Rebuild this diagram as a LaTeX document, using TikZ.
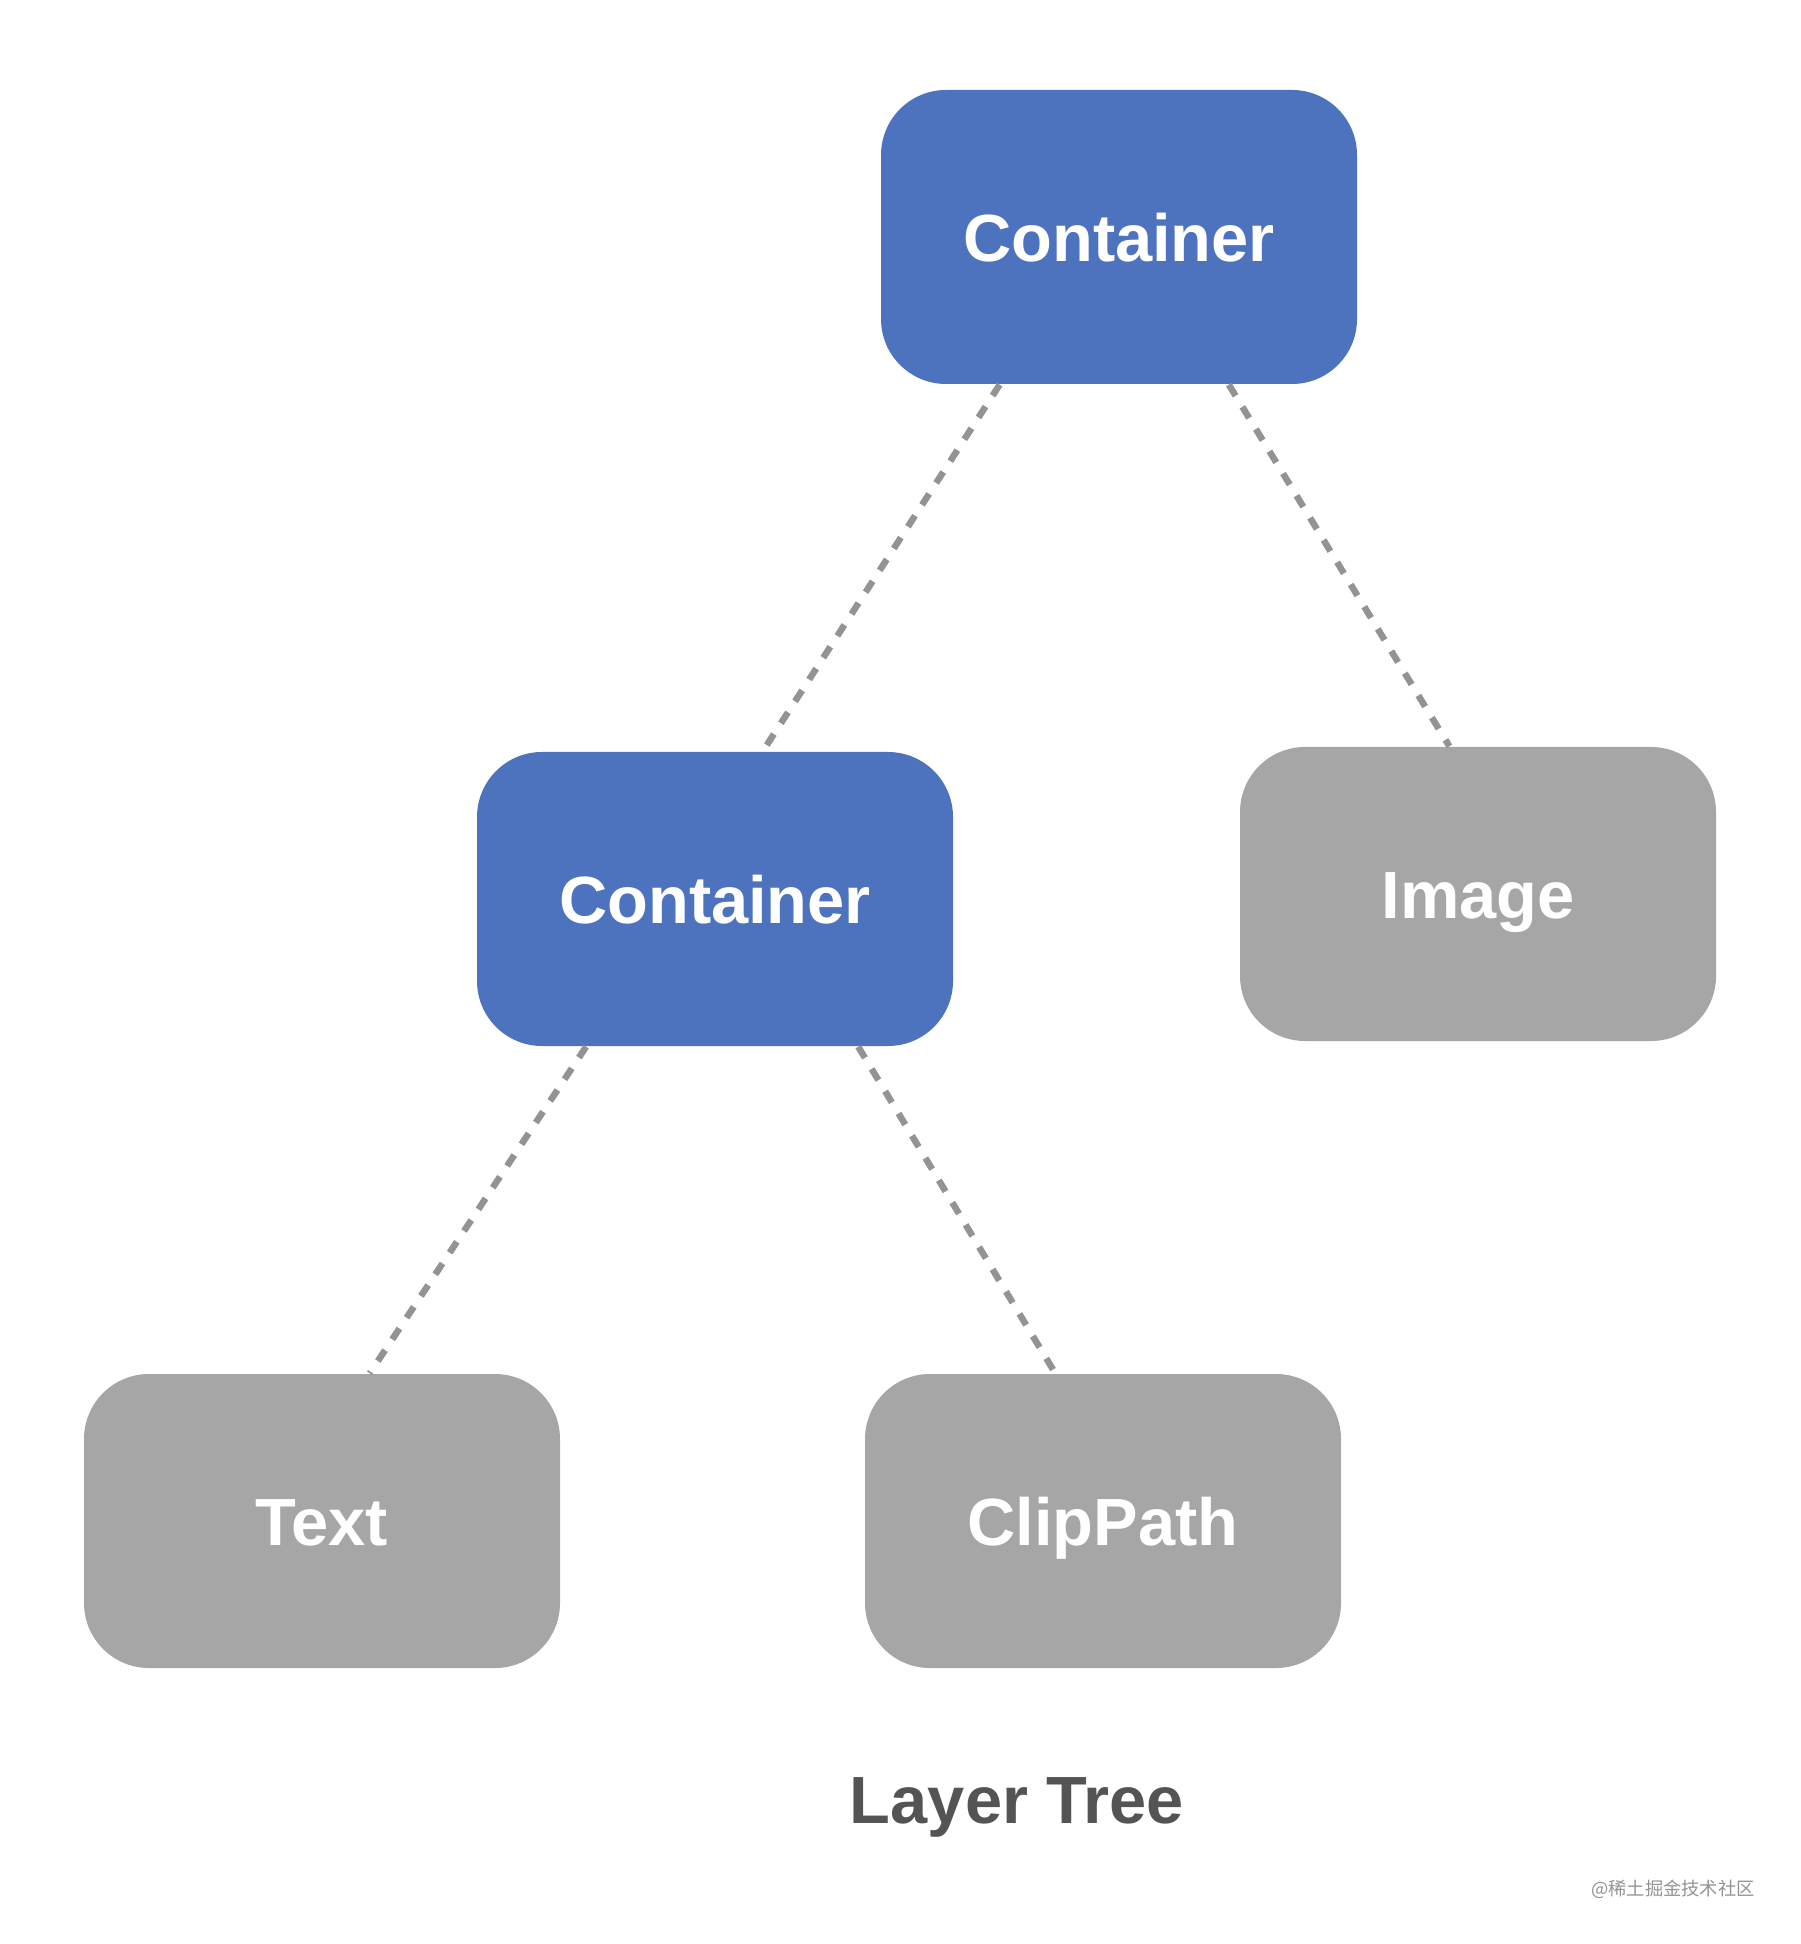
\documentclass[tikz,border=0pt]{standalone}
\usepackage{fontspec}
\setmainfont{Liberation Sans}
\newfontfamily\cjk{Noto Sans CJK SC}
\usetikzlibrary{calc,positioning}
\definecolor{layerblue}{HTML}{4E73BE}
\definecolor{layergray}{HTML}{A6A6A6}
\definecolor{linkgray}{HTML}{939393}
\definecolor{titlegray}{HTML}{545454}

\begin{document}
\begin{tikzpicture}[font=\fontsize{19}{23}\selectfont\bfseries]
  \tikzset{
    layer/.style={rounded corners=0.65cm,inner sep=0pt,minimum width=4.76cm,minimum height=2.94cm,
      text height=0.49cm,text depth=0cm,text=white,align=center},
    bluelayer/.style={layer,fill=layerblue},
    graylayer/.style={layer,fill=layergray},
    link/.style={draw=linkgray,line width=0.065cm,dash pattern=on 0.13cm off 0.13cm}
  }
  \useasboundingbox (0,0) rectangle (18,-19.44);

  % Layer nodes
  \node[bluelayer] (root) at (11.19,-2.37) {Container};
  \node[bluelayer] (inner) at (7.15,-8.99) {Container};
  \node[graylayer] (image) at (14.78,-8.94) {Image};
  \node[graylayer] (text) at (3.22,-15.21) {Text};
  \node[graylayer] (clip) at (11.03,-15.21) {ClipPath};

  % Dotted parent-child links
  \draw[link] ($(root.south west)!0.25!(root.south east)$) -- ($(inner.north west)!0.6!(inner.north east)$);
  \draw[link] ($(root.south west)!0.73!(root.south east)$) -- ($(image.north west)!0.44!(image.north east)$);
  \draw[link] ($(inner.south west)!0.23!(inner.south east)$) -- ($(text.north west)!0.6!(text.north east)$);
  \draw[link] ($(inner.south west)!0.8!(inner.south east)$) -- ($(clip.north west)!0.4!(clip.north east)$);

  % Caption and watermark
  \node[anchor=base,text=titlegray] (title) at (10.17,-18.23) {Layer Tree};
  \node[text=linkgray,font=\cjk\fontsize{5.2}{6}\selectfont] (mark) at (16.73,-18.89) {@稀土掘金技术社区};
\end{tikzpicture}
\end{document}
